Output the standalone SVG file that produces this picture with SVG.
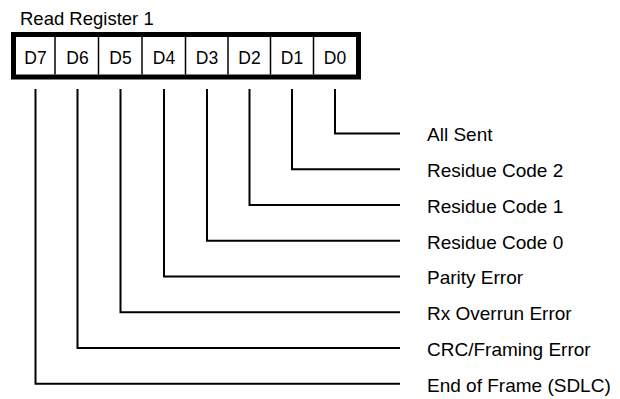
<svg xmlns="http://www.w3.org/2000/svg" width="620" height="399" viewBox="0 0 620 399">
<style>
  text { font-family: "Liberation Sans", Arial, sans-serif; fill: #000; }
  .title { font-size: 18.5px; }
  .bit { font-size: 17.5px; text-anchor: middle; }
  .lbl { font-size: 19px; }
  .div { stroke: #000; stroke-width: 1.5; fill: none; }
  .conn { stroke: #000; stroke-width: 2; fill: none; }
</style>
<rect width="620" height="399" fill="#fff"/>
<g id="register">
  <text class="title" x="20" y="25">Read Register 1</text>
  <rect x="13.5" y="34.5" width="345" height="42.5" fill="#fff" stroke="#000" stroke-width="5"/>
  <line class="div" x1="55" y1="37" x2="55" y2="74.5"/>
  <line class="div" x1="98.5" y1="37" x2="98.5" y2="74.5"/>
  <line class="div" x1="142" y1="37" x2="142" y2="74.5"/>
  <line class="div" x1="185.5" y1="37" x2="185.5" y2="74.5"/>
  <line class="div" x1="228" y1="37" x2="228" y2="74.5"/>
  <line class="div" x1="270.5" y1="37" x2="270.5" y2="74.5"/>
  <line class="div" x1="313.5" y1="37" x2="313.5" y2="74.5"/>
  <text class="bit" x="35.5" y="63.5">D7</text>
  <text class="bit" x="77.5" y="63.5">D6</text>
  <text class="bit" x="120.5" y="63.5">D5</text>
  <text class="bit" x="164" y="63.5">D4</text>
  <text class="bit" x="207" y="63.5">D3</text>
  <text class="bit" x="249.5" y="63.5">D2</text>
  <text class="bit" x="292" y="63.5">D1</text>
  <text class="bit" x="335" y="63.5">D0</text>
</g>
<g id="connectors">
  <polyline class="conn" points="335,89 335,133.5 400,133.5"/>
  <polyline class="conn" points="292,89 292,169.3 400,169.3"/>
  <polyline class="conn" points="249.5,89 249.5,205 400,205"/>
  <polyline class="conn" points="207,89 207,240.8 400,240.8"/>
  <polyline class="conn" points="164,89 164,276.5 400,276.5"/>
  <polyline class="conn" points="120.5,89 120.5,312.3 400,312.3"/>
  <polyline class="conn" points="77.5,89 77.5,348 400,348"/>
  <polyline class="conn" points="35.5,89 35.5,383.8 400,383.8"/>
</g>
<g id="n-d0"><text class="lbl" x="427" y="141">All Sent</text></g>
<g id="n-d1"><text class="lbl" x="427" y="177">Residue Code 2</text></g>
<g id="n-d2"><text class="lbl" x="427" y="212.5">Residue Code 1</text></g>
<g id="n-d3"><text class="lbl" x="427" y="248.5">Residue Code 0</text></g>
<g id="n-d4"><text class="lbl" x="427" y="284">Parity Error</text></g>
<g id="n-d5"><text class="lbl" x="427" y="320">Rx Overrun Error</text></g>
<g id="n-d6"><text class="lbl" x="427" y="355.5">CRC/Framing Error</text></g>
<g id="n-d7"><text class="lbl" x="427" y="391.5">End of Frame (SDLC)</text></g>
</svg>
